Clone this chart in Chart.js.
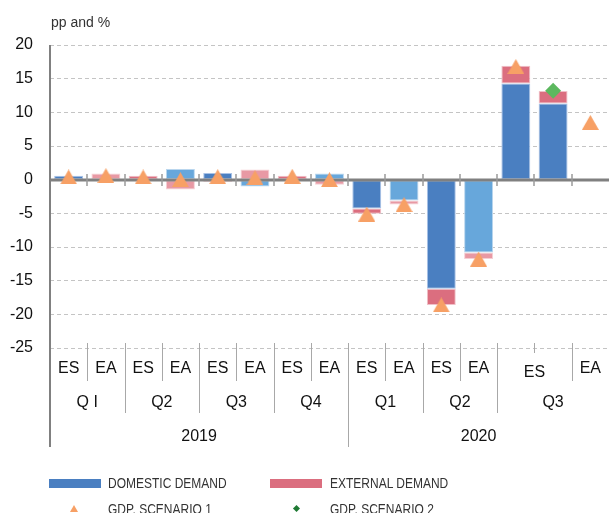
<!DOCTYPE html>
<html>
<head>
<meta charset="utf-8">
<script src="https://cdn.jsdelivr.net/npm/chart.js@4.4.0/dist/chart.umd.min.js"></script>
<style>
html, body { margin: 0; padding: 0; background: #fff; }
#wrap { position: relative; width: 609px; height: 513px; overflow: hidden; font-family: 'Liberation Sans', Arial, sans-serif; }
#chart { position: absolute; left: 0; top: 0; }
.unit { position: absolute; left: 51px; top: 14px; font-size: 14px; line-height: 16px; color: #333; }
.lg { position: absolute; font-size: 15px; line-height: 16px; color: #333; white-space: nowrap; transform: scaleX(0.8); transform-origin: 0 50%; }
.sw { position: absolute; width: 52px; height: 9px; }
.tri { position: absolute; width: 0; height: 0; border-left: 4px solid transparent; border-right: 4px solid transparent; border-bottom: 7px solid #f7a065; }
.dia { position: absolute; width: 5px; height: 5px; background: #1f7a34; transform: rotate(45deg); }
</style>
</head>
<body>
<div id="wrap">
  <canvas id="chart" width="609" height="513"></canvas>
  <div class="unit">pp and %</div>
  <div class="sw" style="left:49px; top:479px; background:#4a7fc1;"></div>
  <div class="lg" style="left:108px; top:475px;">DOMESTIC DEMAND</div>
  <div class="sw" style="left:270px; top:479px; background:#db6e7f;"></div>
  <div class="lg" style="left:330px; top:475px;">EXTERNAL DEMAND</div>
  <div class="tri" style="left:70px; top:505px;"></div>
  <div class="lg" style="left:108px; top:501px;">GDP. SCENARIO 1</div>
  <div class="dia" style="left:294px; top:506px;"></div>
  <div class="lg" style="left:330px; top:501px;">GDP. SCENARIO 2</div>
</div>
<script>
// categories (bottom row), quarters and years with the number of categories they span
const cats = ['ES', 'EA', 'ES', 'EA', 'ES', 'EA', 'ES', 'EA', 'ES', 'EA', 'ES', 'EA', 'ES', 'ES', 'EA'];
const quarters = ['Q I', 'Q2', 'Q3', 'Q4', 'Q1', 'Q2', 'Q3'];
const quarterSpans = [2, 2, 2, 2, 2, 2, 3];
const years = ['2019', '2020'];
const yearSpans = [8, 7];

// contributions, pp
const esDomestic = [0.6, null, 0, null, 1.0, null, 0, null, -4.3, null, -16.2, null, 14.3, 11.3, null];
const esExternal = [0, null, 0.6, null, -0.3, null, 0.6, null, -0.75, null, -2.4, null, 2.6, 1.85, null];
const eaDomestic = [null, 0, null, 1.6, null, -1.0, null, 0.9, null, -3.1, null, -10.8, null, null, null];
const eaExternal = [null, 0.9, null, -1.45, null, 1.5, null, -0.75, null, -0.6, null, -1.0, null, null, null];
// GDP, %
const gdpScenario1 = [0.4, 0.6, 0.4, 0.0, 0.45, 0.3, 0.5, 0.0, -5.1, -3.7, -18.6, -11.8, 16.8, null, 8.5];
const gdpScenario2 = [null, null, null, null, null, null, null, null, null, null, null, null, null, 13.2, null];

const yTicks = [20, 15, 10, 5, 0, -5, -10, -15, -20, -25];

// triangle marker centred on its box
const tri = document.createElement('canvas');
tri.width = 17; tri.height = 15;
const tctx = tri.getContext('2d');
tctx.fillStyle = '#f7a065';
tctx.beginPath();
tctx.moveTo(8.5, 0); tctx.lineTo(17, 15); tctx.lineTo(0, 15);
tctx.closePath();
tctx.fill();

const LABEL_FONT = '16px "Liberation Sans", Arial, sans-serif';

let zeroDone = false;
function drawZeroLine(chart) {
  const { ctx, chartArea: a, scales: { y } } = chart;
  const y0 = Math.round(y.getPixelForValue(0));
  const w = (a.right - a.left) / cats.length;
  ctx.save();
  ctx.strokeStyle = '#808080';
  ctx.lineWidth = 3;
  ctx.beginPath();
  ctx.moveTo(a.left, y0);
  ctx.lineTo(a.right, y0);
  ctx.stroke();
  ctx.strokeStyle = '#9a9a9a';
  ctx.lineWidth = 1.5;
  for (let k = 1; k < cats.length; k++) {
    const xx = Math.round(a.left + k * w);
    ctx.beginPath();
    ctx.moveTo(xx, y0 - 6);
    ctx.lineTo(xx, y0 + 6);
    ctx.stroke();
  }
  ctx.restore();
}

function drawCategoryAxis(chart) {
  const { ctx, chartArea: a } = chart;
  const w = (a.right - a.left) / cats.length;
  const bx = k => a.left + k * w;
  const top = a.bottom - 5;
  const vline = (xx, y1, y2) => {
    const px = Math.round(xx) + 0.5;
    ctx.beginPath(); ctx.moveTo(px, y1); ctx.lineTo(px, y2); ctx.stroke();
  };

  // boundaries of quarters and years
  const qBounds = [];
  let k = 0;
  quarterSpans.forEach(s => { k += s; qBounds.push(k); });
  const yBounds = [];
  k = 0;
  yearSpans.forEach(s => { k += s; yBounds.push(k); });

  // bottom-row groups: merge equal neighbours inside one quarter
  const groups = [];
  for (let i = 0; i < cats.length; i++) {
    const g = groups[groups.length - 1];
    if (g && g.label === cats[i] && !qBounds.includes(i)) g.end = i + 1;
    else groups.push({ label: cats[i], start: i, end: i + 1 });
  }

  ctx.save();
  ctx.strokeStyle = '#a8a8a8';
  ctx.lineWidth = 1;
  groups.forEach(g => {
    if (g.start > 0 && !qBounds.includes(g.start)) vline(bx(g.start), top, 381);
    for (let j = g.start + 1; j < g.end; j++) vline(bx(j), top, 353);
  });
  qBounds.forEach(b => { if (b < cats.length && !yBounds.includes(b)) vline(bx(b), top, 413); });
  yBounds.forEach(b => { if (b < cats.length) vline(bx(b), top, 447); });

  // left axis line
  ctx.strokeStyle = '#808080';
  ctx.lineWidth = 2;
  ctx.beginPath();
  ctx.moveTo(a.left, a.top);
  ctx.lineTo(a.left, 447);
  ctx.stroke();

  ctx.fillStyle = '#111';
  ctx.font = LABEL_FONT;
  ctx.textAlign = 'center';
  ctx.textBaseline = 'middle';
  groups.forEach(g => {
    ctx.fillText(g.label, (bx(g.start) + bx(g.end)) / 2, g.end - g.start > 1 ? 373 : 369);
  });
  k = 0;
  quarters.forEach((q, i) => {
    ctx.fillText(q, (bx(k) + bx(k + quarterSpans[i])) / 2, 403);
    k += quarterSpans[i];
  });
  k = 0;
  years.forEach((yr, i) => {
    ctx.fillText(yr, (bx(k) + bx(k + yearSpans[i])) / 2, 437);
    k += yearSpans[i];
  });
  ctx.restore();
}

const hierarchyAxis = {
  id: 'hierarchyAxis',
  beforeDatasetsDraw() { zeroDone = false; },
  beforeDatasetDraw(chart, args) {
    if (args.meta.type !== 'bar' && !zeroDone) { drawZeroLine(chart); zeroDone = true; }
  },
  afterDatasetsDraw(chart) {
    if (!zeroDone) { drawZeroLine(chart); zeroDone = true; }
  },
  afterDraw(chart) { drawCategoryAxis(chart); }
};

const barCommon = { type: 'bar', stack: 'bars', order: 2, borderWidth: 1, borderSkipped: false,
  categoryPercentage: 0.8, barPercentage: 0.97 };

new Chart(document.getElementById('chart'), {
  data: {
    labels: cats,
    datasets: [
      Object.assign({ label: 'ES domestic', data: esDomestic, backgroundColor: '#4a7fc1', borderColor: '#a9c2e6' }, barCommon),
      Object.assign({ label: 'ES external', data: esExternal, backgroundColor: '#db6e7f', borderColor: '#f0c0c8' }, barCommon),
      Object.assign({ label: 'EA domestic', data: eaDomestic, backgroundColor: '#67a7db', borderColor: '#b9d6ee' }, barCommon),
      Object.assign({ label: 'EA external', data: eaExternal, backgroundColor: '#e899a4', borderColor: '#f5cfd4' }, barCommon),
      { type: 'line', label: 'GDP. SCENARIO 1', data: gdpScenario1, stack: 'g1', order: 1, showLine: false,
        pointStyle: tri, pointRadius: 8, pointHoverRadius: 8 },
      { type: 'line', label: 'GDP. SCENARIO 2', data: gdpScenario2, stack: 'g2', order: 1, showLine: false,
        pointStyle: 'rectRot', pointRadius: 8, pointHoverRadius: 8, pointBorderWidth: 0,
        pointBackgroundColor: '#5cb85f', borderColor: '#5cb85f' }
    ]
  },
  options: {
    responsive: false,
    animation: false,
    layout: { autoPadding: false, padding: { top: 45, right: 0, bottom: 0, left: 0 } },
    plugins: { legend: { display: false }, tooltip: { enabled: false } },
    scales: {
      x: {
        stacked: true,
        offset: true,
        grid: { display: false },
        border: { display: false },
        ticks: { display: false },
        afterFit(s) { s.height = 165; }
      },
      y: {
        stacked: true,
        min: -25,
        max: 20,
        afterBuildTicks(s) { s.ticks = yTicks.map(v => ({ value: v })); },
        grid: {
          drawTicks: false,
          color: c => (c.tick && c.tick.value === 0) ? 'rgba(0,0,0,0)' : '#c4c4c4',
          lineWidth: 1
        },
        border: { display: false, dash: [4, 3] },
        ticks: {
          padding: 17,
          color: '#111',
          font: { family: '"Liberation Sans", Arial, sans-serif', size: 16 }
        },
        afterFit(s) { s.width = 50; }
      }
    }
  },
  plugins: [hierarchyAxis]
});
</script>
</body>
</html>
